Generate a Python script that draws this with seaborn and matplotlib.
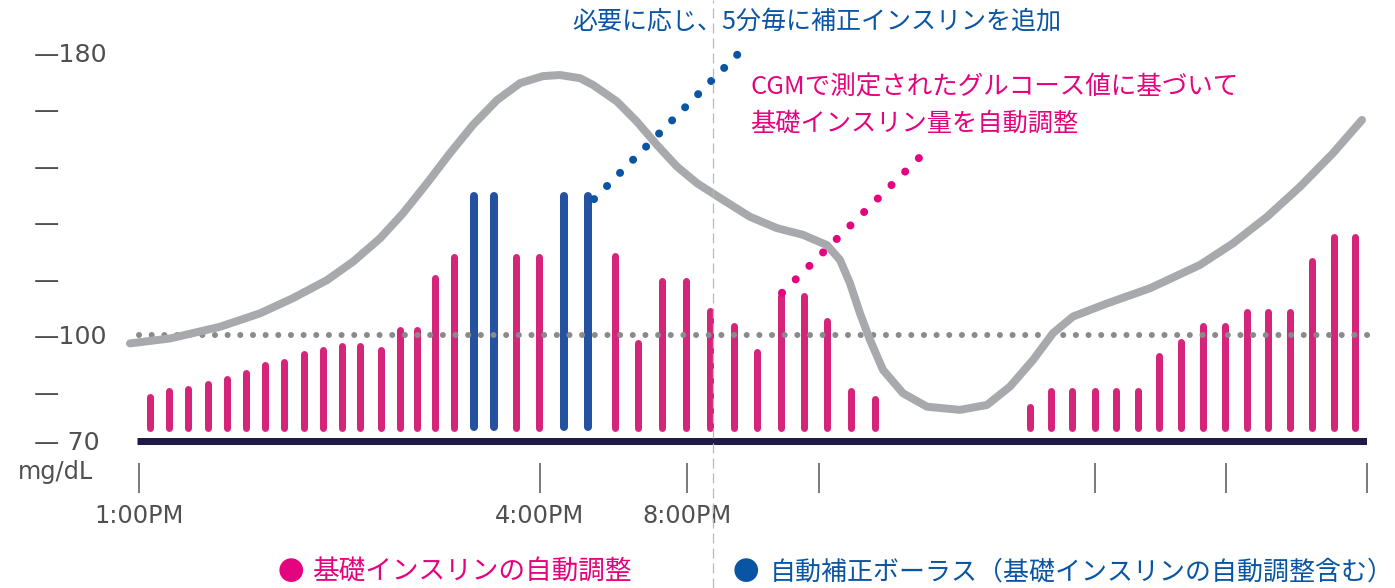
import matplotlib
matplotlib.use('Agg')
import matplotlib.pyplot as plt
import matplotlib.transforms as mtransforms
import seaborn as sns

# --- data (x = position on the time axis, y = mg/dL) ---
basal_x = [1.3, 3.2, 5.1, 7.1, 9.0, 10.9, 12.8, 14.7, 16.7, 18.6, 20.5, 22.3, 24.4, 26.3, 28.0, 29.8, 31.7,
           37.9, 40.2,
           47.8, 50.1, 52.5, 54.9, 57.3, 59.7, 62.0, 64.4, 66.7, 69.0, 71.4, 73.8,
           89.3, 91.4, 93.5, 95.8, 97.9, 100.1, 102.2, 104.4, 106.6, 108.8, 111.0, 113.1, 115.3, 117.5, 119.7, 121.8]
basal_y = [83.5, 85.1, 85.8, 87.2, 88.4, 90.1, 92.4, 93.2, 95.5, 96.7, 97.8, 97.8, 96.7, 102.5, 102.5, 117.2, 122.9,
           122.9, 122.9,
           123.4, 98.8, 116.3, 116.3, 107.8, 103.4, 96.1, 112.1, 112.1, 104.9, 85.0, 82.9,
           80.6, 85.0, 85.0, 85.0, 85.0, 85.0, 95.1, 99.0, 103.5, 103.5, 107.6, 107.6, 107.6, 122.0, 128.7, 128.7]

bolus_x = [33.7, 35.7, 42.7, 45.1]
bolus_y = [140.3, 140.3, 140.3, 140.3]

cgm_x = [-0.7, 3.3, 8.3, 12.3, 15.6, 19.0, 21.6, 24.3, 26.6, 29.0, 31.3, 33.6, 36.0, 38.3, 40.6, 42.3,
         44.3, 45.6, 48.0, 50.0, 52.0, 54.0, 56.0, 58.6, 61.3, 64.0, 66.6, 69.0, 70.3, 71.3, 72.3, 73.3,
         74.6, 76.6, 79.0, 82.3, 85.0, 87.3, 89.6, 91.6, 93.6, 97.0, 101.3, 106.3, 109.6, 113.0, 116.3,
         119.6, 122.5]
cgm_y = [97.6, 99.0, 102.3, 106.1, 110.4, 115.5, 120.7, 127.3, 134.4, 142.9, 151.4, 159.4, 166.4, 171.2, 173.2, 173.5,
         172.6, 170.7, 166.0, 160.3, 153.7, 147.6, 142.9, 138.2, 133.4, 130.2, 128.3, 125.4, 121.2, 114.6, 106.1, 98.6,
         90.1, 83.5, 79.7, 78.8, 80.2, 85.4, 92.9, 100.5, 105.2, 108.9, 113.2, 119.8, 125.9, 133.4, 141.9,
         151.4, 160.8]

target = 100
floor = 70
ytick_vals = [70, 84, 100, 116, 132, 148, 164, 180]
ytick_labels = ['\u2014 70', '\u2014', '\u2014100', '\u2014', '\u2014', '\u2014', '\u2014', '\u2014180']

xtick_pos = [0.2, 40.3, 55.0, 68.2, 95.8, 108.9, 123.0]
xtick_labels = ['1:00PM', '4:00PM', '8:00PM', '', '', '', '']

bolus_note = '必要に応じ、5分毎に補正インスリンを追加'
basal_note = ['CGMで測定されたグルコース値に基づいて', '基礎インスリン量を自動調整']
legend_labels = ['基礎インスリンの自動調整', '自動補正ボーラス（基礎インスリンの自動調整含む）']

PINK_BAR = '#d5257b'
BLUE_BAR = '#2551a1'
PINK_TXT = '#e4047f'
BLUE_TXT = '#0a55a3'
GREY = '#505050'
CJK = ['Noto Sans CJK JP', 'DejaVu Sans']

W, H = 1395, 588
PX = 3.536  # pixels per mg/dL

sns.set_theme(style='white')
plt.rcParams['font.family'] = ['DejaVu Sans', 'Noto Sans CJK JP']

fig = plt.figure(figsize=(W / 100, H / 100), dpi=100)
ax = fig.add_axes([137 / W, 0, 1230 / W, 1])
ax.set_xlim(0, 123)
ax.set_ylim(floor - 147 / PX, floor + 441 / PX)


def stems(xs, tops, color, w_px):
    cap = w_px / 2 / PX
    bottom = floor + 10 / PX + cap
    lc = ax.vlines(xs, bottom, [t - cap for t in tops], color=color, lw=w_px * 0.72, zorder=2)
    lc.set_capstyle('round')


stems(basal_x, basal_y, PINK_BAR, 7)
stems(bolus_x, bolus_y, BLUE_BAR, 8)

# target line (dotted)
ax.plot([0.2, 123.8], [target, target], color='#8a8a8a', lw=6 * 0.72, ls=(0, (0.01, 2.1)),
        dash_capstyle='round', clip_on=False, zorder=3)

# baseline
ax.axhline(floor, color='#1f1b46', lw=7 * 0.72, solid_capstyle='butt', zorder=3)

# CGM trace
sns.lineplot(x=cgm_x, y=cgm_y, sort=False, estimator=None, color='#a7a9ac', lw=8 * 0.72,
             solid_capstyle='round', solid_joinstyle='round', clip_on=False, ax=ax, zorder=4)

# leader lines to the notes
ax.plot([45.7, 61.1], [138.4, 182.3], color=BLUE_TXT, lw=8 * 0.72, ls=(0, (0.01, 2.3)),
        dash_capstyle='round', clip_on=False, zorder=5)
ax.plot([64.5, 79.3], [111.9, 153.1], color=PINK_TXT, lw=8 * 0.72, ls=(0, (0.01, 2.39)),
        dash_capstyle='round', clip_on=False, zorder=5)

# divider
ax.axvline(57.6, color='#b9b9b9', lw=0.9, ls=(0, (8, 4)), zorder=6)

# x axis: ticks below the baseline
for s in ax.spines.values():
    s.set_visible(False)
ax.spines['bottom'].set_position(('data', floor - 22 / PX))
ax.set_xticks(xtick_pos, xtick_labels)
ax.tick_params(axis='x', bottom=True, direction='out', length=21.6, width=1.1, color='#555555',
               pad=8, labelsize=17.3, labelcolor=GREY)
ax.set_yticks([])

# y axis labels on the far left
trans = mtransforms.blended_transform_factory(fig.transFigure, ax.transData)
for v, lab in zip(ytick_vals, ytick_labels):
    ax.text(34 / W, v, lab, transform=trans, ha='left', va='center_baseline', fontsize=18.3, color=GREY)
fig.text(18 / W, 1 - 472 / H, 'mg/dL', ha='left', va='center', fontsize=17.3, color=GREY)

# notes
fig.text(572 / W, 1 - 22 / H, bolus_note, ha='left', va='center', fontsize=18, color=BLUE_TXT, family=CJK)
fig.text(750 / W, 1 - 88 / H, basal_note[0], ha='left', va='center', fontsize=18.4, color=PINK_TXT, family=CJK)
fig.text(750 / W, 1 - 124 / H, basal_note[1], ha='left', va='center', fontsize=18.2, color=PINK_TXT, family=CJK)

# legend
fig.text(291 / W, 1 - 572 / H, '●', ha='center', va='center', fontsize=19, color=PINK_TXT, family=CJK)
fig.text(312 / W, 1 - 572 / H, legend_labels[0], ha='left', va='center', fontsize=19.2, color=PINK_TXT, family=CJK)
fig.text(746 / W, 1 - 572 / H, '●', ha='center', va='center', fontsize=19, color=BLUE_TXT, family=CJK)
fig.text(770 / W, 1 - 572 / H, legend_labels[1], ha='left', va='center', fontsize=18.7, color=BLUE_TXT, family=CJK)

fig.savefig('out.png', dpi=100)
